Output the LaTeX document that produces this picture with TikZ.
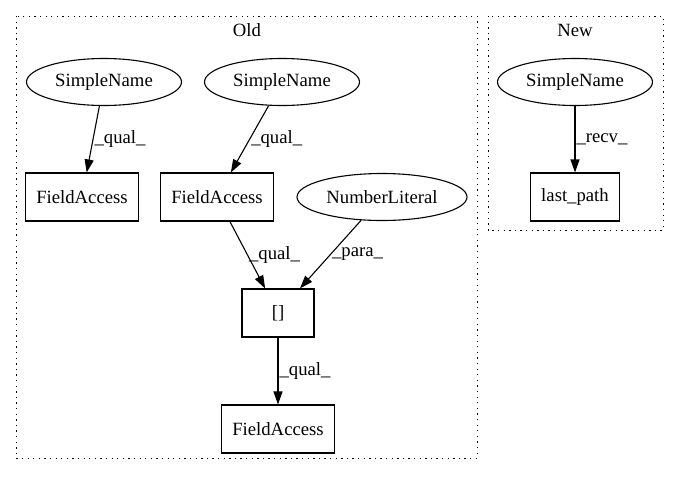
\documentclass[tikz,border=0pt]{standalone}
\usepackage{fontspec}
\setmainfont{Liberation Serif}
\usetikzlibrary{shapes, arrows.meta}

\begin{document}
\begin{tikzpicture}[x=1pt, y=-1pt, line width=1.1pt,
	>={Triangle[length=13pt, width=9pt]},
	every node/.style={font=\fontsize{18.7}{22}\selectfont},
	ast/.style={draw, ellipse, minimum height=47pt, inner sep=0pt},
	box/.style={draw, rectangle, minimum height=48pt, minimum width=72pt, inner xsep=11pt},
	lbl/.style={right, inner sep=1pt},
	cluster/.style={line width=1pt, dash pattern=on 1.3pt off 4.3pt}]
	\useasboundingbox (0, 0) rectangle (680, 480);
	% clusters
	\draw[cluster] (16, 16) rectangle (477, 458);
	\node (old) at (247, 30) {Old};
	\draw[cluster] (488, 16) rectangle (663, 230);
	\node (new) at (575, 30) {New};
	% old part
	\node (sn1) at (104, 82)	[ast, minimum width=155pt]	{SimpleName};
	\node (fa1) at (82, 197)	[box]	{FieldAccess};
	\node (sn2) at (282, 82)	[ast, minimum width=155pt]	{SimpleName};
	\node (fa2) at (217, 197)	[box]	{FieldAccess};
	\node (nl) at (382, 197)	[ast, minimum width=170pt]	{NumberLiteral};
	\node (idx) at (278, 313)	[box]	{[]};
	\node (fa3) at (278, 429)	[box]	{FieldAccess};
	\draw[->] (sn1) -- node[lbl] {\_qual\_} (fa1);
	\draw[->] (sn2) -- node[lbl] {\_qual\_} (fa2);
	\draw[->] (fa2) -- node[lbl] {\_qual\_} (idx);
	\draw[->] (nl) -- node[lbl] {\_para\_} (idx);
	\draw[->] (idx) -- node[lbl] {\_qual\_} (fa3);
	% new part
	\node (sn3) at (575, 82)	[ast, minimum width=155pt]	{SimpleName};
	\node (lp) at (575, 197)	[box]	{last\_path};
	\draw[->] (sn3) -- node[lbl] {\_recv\_} (lp);
\end{tikzpicture}
\end{document}
